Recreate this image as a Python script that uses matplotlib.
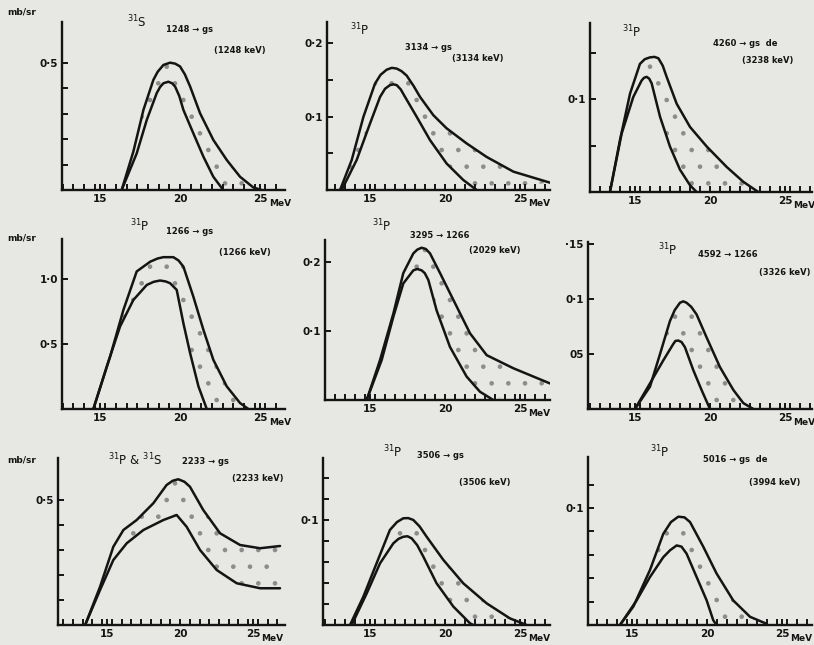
import matplotlib.pyplot as plt
from matplotlib.ticker import MultipleLocator, FixedLocator, NullFormatter

# --- values: energy (MeV) vs cross-section (mb/sr) ---------------------------
# each panel: an upper and a lower curve bounding the stippled band

s1248_hi_e = [16.35, 17.08, 17.71, 18.33, 18.6, 18.96, 19.38, 19.7, 20.0, 20.3, 20.63, 21.25, 22.08, 22.92, 23.75, 24.58, 25.1]
s1248_hi_y = [0.0, 0.151, 0.315, 0.433, 0.465, 0.492, 0.501, 0.497, 0.486, 0.455, 0.407, 0.302, 0.197, 0.118, 0.052, 0.01, 0.0]
s1248_lo_e = [16.35, 17.29, 17.92, 18.54, 18.75, 18.96, 19.27, 19.5, 19.69, 19.95, 20.21, 20.83, 21.46, 22.08, 22.7]
s1248_lo_y = [0.0, 0.144, 0.276, 0.381, 0.405, 0.42, 0.426, 0.42, 0.407, 0.37, 0.315, 0.223, 0.131, 0.052, 0.0]

p3134_hi_e = [13.0, 13.78, 14.56, 15.33, 15.7, 16.11, 16.45, 16.78, 17.1, 17.44, 17.9, 18.33, 19.22, 20.11, 21.44, 22.78, 24.56, 27.0]
p3134_hi_y = [0.0, 0.041, 0.0998, 0.145, 0.157, 0.164, 0.1665, 0.1655, 0.162, 0.156, 0.142, 0.127, 0.102, 0.084, 0.0635, 0.045, 0.025, 0.010]
p3134_lo_e = [13.11, 14.11, 15.0, 15.67, 16.0, 16.33, 16.55, 16.78, 17.05, 17.33, 18.11, 19.0, 20.11, 21.22, 22.11]
p3134_lo_y = [0.0, 0.041, 0.0907, 0.127, 0.138, 0.143, 0.144, 0.143, 0.137, 0.127, 0.0998, 0.068, 0.036, 0.0136, 0.0]

p4260_hi_e = [13.33, 14.0, 14.67, 15.33, 15.65, 16.0, 16.3, 16.56, 16.85, 17.11, 17.78, 18.67, 19.78, 21.11, 22.22, 23.22]
p4260_hi_y = [0.0, 0.056, 0.106, 0.138, 0.143, 0.145, 0.1455, 0.144, 0.136, 0.124, 0.095, 0.070, 0.049, 0.027, 0.011, 0.0]
p4260_lo_e = [13.33, 14.11, 14.89, 15.44, 15.6, 15.78, 15.95, 16.11, 16.67, 17.33, 18.0, 18.67, 19.11]
p4260_lo_y = [0.0, 0.063, 0.1025, 0.12, 0.123, 0.124, 0.122, 0.117, 0.081, 0.049, 0.024, 0.0072, 0.0]

p1266_hi_e = [14.58, 15.63, 16.46, 17.29, 18.13, 18.6, 18.96, 19.58, 19.9, 20.21, 20.83, 21.46, 22.08, 22.92, 23.75, 24.27]
p1266_hi_y = [0.0, 0.405, 0.764, 1.06, 1.135, 1.16, 1.17, 1.17, 1.145, 1.097, 0.866, 0.61, 0.379, 0.174, 0.046, 0.0]
p1266_lo_e = [14.58, 15.42, 16.25, 17.08, 17.92, 18.35, 18.75, 19.1, 19.38, 19.79, 20.21, 20.63, 21.15, 21.67]
p1266_lo_y = [0.0, 0.328, 0.636, 0.84, 0.956, 0.98, 0.99, 0.983, 0.969, 0.918, 0.66, 0.43, 0.174, 0.0]

p3295_hi_e = [14.78, 15.67, 16.56, 17.22, 17.89, 18.15, 18.44, 18.72, 19.0, 19.67, 20.56, 21.67, 22.78, 24.56, 27.0]
p3295_hi_y = [0.0, 0.058, 0.1256, 0.184, 0.2126, 0.218, 0.2208, 0.219, 0.2126, 0.184, 0.145, 0.0966, 0.065, 0.046, 0.024]
p3295_lo_e = [14.78, 15.78, 16.56, 17.22, 17.89, 18.15, 18.44, 18.65, 18.89, 19.44, 20.33, 21.44, 22.33, 23.22]
p3295_lo_y = [0.0, 0.058, 0.121, 0.169, 0.188, 0.19, 0.188, 0.184, 0.174, 0.130, 0.077, 0.034, 0.012, 0.0]

p4592_hi_e = [15.0, 16.0, 16.67, 17.33, 17.65, 18.0, 18.22, 18.44, 18.75, 19.11, 19.78, 20.67, 21.56, 22.22, 22.89]
p4592_hi_y = [0.0, 0.0203, 0.050, 0.080, 0.09, 0.0967, 0.098, 0.0967, 0.093, 0.086, 0.065, 0.038, 0.0173, 0.0054, 0.0]
p4592_lo_e = [15.0, 16.0, 16.89, 17.56, 17.7, 17.89, 18.1, 18.33, 18.89, 19.44, 20.0]
p4592_lo_y = [0.0, 0.0233, 0.0443, 0.0593, 0.062, 0.0623, 0.061, 0.0563, 0.0353, 0.0173, 0.0]

ps2233_hi_e = [13.5, 14.52, 15.43, 16.12, 17.03, 18.17, 19.08, 19.5, 19.88, 20.3, 20.68, 21.59, 22.74, 24.11, 25.48, 26.85]
ps2233_hi_y = [0.0, 0.153, 0.313, 0.38, 0.42, 0.487, 0.56, 0.577, 0.583, 0.573, 0.553, 0.46, 0.367, 0.32, 0.307, 0.316]
ps2233_lo_e = [13.5, 14.52, 15.43, 16.35, 17.49, 18.86, 19.77, 20.45, 21.37, 22.51, 23.88, 25.48, 26.85]
ps2233_lo_y = [0.0, 0.14, 0.26, 0.327, 0.38, 0.42, 0.44, 0.393, 0.30, 0.22, 0.167, 0.147, 0.147]

p3506_hi_e = [13.67, 14.56, 15.44, 16.33, 16.8, 17.22, 17.55, 17.89, 18.3, 18.78, 19.89, 21.22, 22.78, 24.33, 25.44]
p3506_hi_y = [0.0, 0.027, 0.0587, 0.0905, 0.098, 0.1016, 0.1018, 0.1, 0.094, 0.084, 0.062, 0.0397, 0.0206, 0.0063, 0.0]
p3506_lo_e = [13.78, 14.78, 15.67, 16.56, 16.9, 17.22, 17.5, 17.78, 18.15, 18.56, 19.44, 20.56, 21.67, 21.89]
p3506_lo_y = [0.0, 0.030, 0.0587, 0.0778, 0.082, 0.084, 0.0845, 0.0825, 0.076, 0.065, 0.0397, 0.0175, 0.0016, 0.0]

p5016_hi_e = [14.2, 15.09, 16.2, 17.09, 17.6, 18.09, 18.5, 18.87, 19.75, 20.64, 21.75, 22.87, 23.98]
p5016_hi_y = [0.0, 0.0157, 0.047, 0.078, 0.088, 0.0926, 0.092, 0.088, 0.067, 0.044, 0.021, 0.007, 0.001]
p5016_lo_e = [14.2, 15.31, 16.2, 17.09, 17.55, 17.98, 18.3, 18.64, 19.31, 19.98, 20.42, 20.64]
p5016_lo_y = [0.0, 0.021, 0.041, 0.058, 0.064, 0.068, 0.067, 0.061, 0.041, 0.021, 0.004, 0.0]

# nucleus / transition / gamma energy written on each panel
nuclei = ["$^{31}$S", "$^{31}$P", "$^{31}$P",
          "$^{31}$P", "$^{31}$P", "$^{31}$P",
          "$^{31}$P & $^{31}$S", "$^{31}$P", "$^{31}$P"]
transitions = ["1248 \u2192 gs", "3134 \u2192 gs", "4260 \u2192 gs  de",
               "1266 \u2192 gs", "3295 \u2192 1266", "4592 \u2192 1266",
               "2233 \u2192 gs", "3506 \u2192 gs", "5016 \u2192 gs  de"]
gammas = ["(1248 keV)", "(3134 keV)", "(3238 keV)",
          "(1266 keV)", "(2029 keV)", "(3326 keV)",
          "(2233 keV)", "(3506 keV)", "(3994 keV)"]

W, H = 814, 645
INK = "#141414"
PAPER = "#e7e7e3"


def fx(px):
    return px / W


def fy(py):
    return 1 - py / H


# panel frame in pixels: left, bottom, right, top of the drawn axes
panels = [
    dict(box=(62, 190, 285, 22), xlim=(12.62, 26.56), ylim=0.661,
         major=[0.5], labels=["0\u00b75"], minor=[0.1, 0.2, 0.3, 0.4],
         curves=(s1248_hi_e, s1248_hi_y, s1248_lo_e, s1248_lo_y),
         txt=[(137, 22), (190, 30), (240, 50)]),
    dict(box=(327, 190, 550, 22), xlim=(12.13, 27.0), ylim=0.229,
         major=[0.1, 0.2], labels=["0\u00b71", "0\u00b72"], minor=[0.05, 0.15],
         curves=(p3134_hi_e, p3134_hi_y, p3134_lo_e, p3134_lo_y),
         txt=[(360, 30), (428, 48), (478, 58)]),
    dict(box=(590, 192, 812, 23), xlim=(12.0, 26.8), ylim=0.182,
         major=[0.1], labels=["0\u00b71"], minor=[0.05, 0.15],
         curves=(p4260_hi_e, p4260_hi_y, p4260_lo_e, p4260_lo_y),
         txt=[(632, 32), (745, 43), (768, 60)]),
    dict(box=(62, 409, 285, 239), xlim=(12.62, 26.56), ylim=1.31,
         major=[0.5, 1.0], labels=["0\u00b75", "1\u00b70"], minor=[],
         curves=(p1266_hi_e, p1266_hi_y, p1266_lo_e, p1266_lo_y),
         txt=[(140, 226), (190, 232), (245, 253)]),
    dict(box=(325, 400, 550, 240), xlim=(12.0, 27.0), ylim=0.232,
         major=[0.1, 0.2], labels=["0\u00b71", "0\u00b72"], minor=[],
         curves=(p3295_hi_e, p3295_hi_y, p3295_lo_e, p3295_lo_y),
         txt=[(382, 226), (440, 235), (495, 250)]),
    dict(box=(588, 409, 812, 242), xlim=(11.87, 26.8), ylim=0.152,
         major=[0.05, 0.1, 0.15], labels=["05", "0\u00b71", "\u00b715"], minor=[],
         curves=(p4592_hi_e, p4592_hi_y, p4592_lo_e, p4592_lo_y),
         txt=[(668, 250), (728, 254), (785, 272)]),
    dict(box=(58, 625, 285, 458), xlim=(11.64, 27.19), ylim=0.668,
         major=[0.5], labels=["0\u00b75"], minor=[0.1, 0.2, 0.3, 0.4],
         curves=(ps2233_hi_e, ps2233_hi_y, ps2233_lo_e, ps2233_lo_y),
         txt=[(135, 460), (205, 462), (258, 478)]),
    dict(box=(323, 625, 550, 458), xlim=(11.87, 27.0), ylim=0.159,
         major=[0.1], labels=["0\u00b71"], minor=[0.02, 0.04, 0.06, 0.08, 0.12, 0.14],
         curves=(p3506_hi_e, p3506_hi_y, p3506_lo_e, p3506_lo_y),
         txt=[(393, 452), (440, 456), (485, 482)]),
    dict(box=(588, 625, 812, 457), xlim=(12.07, 27.0), ylim=0.1436,
         major=[0.1], labels=["0\u00b71"], minor=[0.02, 0.04, 0.06, 0.08, 0.12],
         curves=(p5016_hi_e, p5016_hi_y, p5016_lo_e, p5016_lo_y),
         txt=[(660, 452), (735, 460), (775, 482)]),
]

plt.rcParams["hatch.linewidth"] = 0.9
plt.rcParams["hatch.color"] = "#8c8c8c"

fig = plt.figure(figsize=(W / 100, H / 100), dpi=100, facecolor=PAPER)

for i, p in enumerate(panels):
    l, b, r, t = p["box"]
    ax = fig.add_axes([fx(l), fy(b), (r - l) / W, (b - t) / H])
    ax.set_facecolor("none")
    hi_e, hi_y, lo_e, lo_y = p["curves"]

    # stippled band between the two curves
    ax.fill(hi_e + lo_e[::-1], hi_y + lo_y[::-1], facecolor="none",
            edgecolor="#8c8c8c", hatch=".", linewidth=0)
    for e, y in ((hi_e, hi_y), (lo_e, lo_y)):
        ax.plot(e, y, color=INK, lw=1.8, solid_capstyle="round",
                solid_joinstyle="round")

    ax.set_xlim(*p["xlim"])
    ax.set_ylim(0, p["ylim"])
    for side in ("top", "right"):
        ax.spines[side].set_visible(False)
    for side in ("left", "bottom"):
        ax.spines[side].set_linewidth(1.7)
        ax.spines[side].set_color(INK)

    ax.xaxis.set_major_locator(FixedLocator([15, 20, 25]))
    ax.set_xticklabels(["15", "20", "25"])
    ax.xaxis.set_minor_locator(MultipleLocator(2 / 3))
    ax.yaxis.set_major_locator(FixedLocator(p["major"]))
    ax.set_yticklabels(p["labels"])
    ax.yaxis.set_minor_locator(FixedLocator(p["minor"]))
    ax.yaxis.set_minor_formatter(NullFormatter())
    ax.tick_params(which="both", direction="in", length=4, width=1.4,
                   color=INK, labelsize=7.5, labelcolor=INK, pad=3)
    for lab in ax.get_xticklabels() + ax.get_yticklabels():
        lab.set_fontweight("bold")

    ax.annotate("MeV", xy=(25.55, 0), xycoords=("data", "axes fraction"),
                xytext=(0, -6.2), textcoords="offset points", ha="left", va="top",
                fontsize=6.5, fontweight="bold", color=INK)

    (nx, ny), (tx, ty), (gx, gy) = p["txt"]
    fig.text(fx(nx), fy(ny), nuclei[i], ha="center", va="center",
             fontsize=8.5, color=INK)
    fig.text(fx(tx), fy(ty), transitions[i], ha="center", va="center",
             fontsize=6, fontweight="bold", color=INK)
    fig.text(fx(gx), fy(gy), gammas[i], ha="center", va="center",
             fontsize=6, fontweight="bold", color=INK)

# axis unit written beside the first column
for py in (12, 238, 460):
    fig.text(fx(22), fy(py), "mb/sr", ha="center", va="center",
             fontsize=6.5, fontweight="bold", color=INK)

fig.savefig("out.png", dpi=100, facecolor=PAPER)
